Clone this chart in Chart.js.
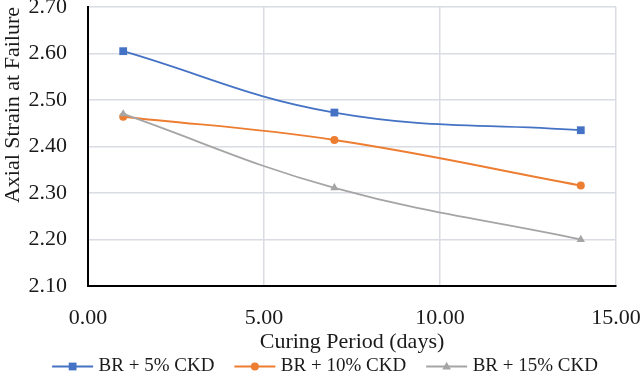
<!DOCTYPE html>
<html>
<head>
<meta charset="utf-8">
<script src="https://cdn.jsdelivr.net/npm/chart.js@4/dist/chart.umd.min.js"></script>
<style>
  html, body { margin: 0; padding: 0; background: #fff; }
  #wrap { width: 641px; height: 383px; position: relative; }
</style>
</head>
<body>
<div id="wrap"><canvas id="strain-chart"></canvas></div>
<script>
const CURING_DAYS = [1, 7, 14];
const CKD_5 = [2.605, 2.473, 2.435];
const CKD_10 = [2.464, 2.414, 2.316];
const CKD_15 = [2.470, 2.311, 2.200];
const SERIES_NAMES = ['BR + 5% CKD', 'BR + 10% CKD', 'BR + 15% CKD'];

const FONT = '"Liberation Serif", "Times New Roman", serif';
const TEXT_COLOR = '#1a1a1a';
const GRID_COLOR = '#d9dce3';
const SERIES_COLORS = ['#4472C4', '#ED7D31', '#A5A5A5'];
const SERIES_MARKERS = ['rect', 'circle', 'triangle'];
const MARKER_SIZES = [5.5, 4, 4.8];
const KEY_LEN = 41;

function toPoints(values) {
  return values.map((v, i) => ({ x: CURING_DAYS[i], y: v }));
}

function makeDataset(idx, values) {
  return {
    label: SERIES_NAMES[idx],
    data: toPoints(values),
    borderColor: SERIES_COLORS[idx],
    backgroundColor: SERIES_COLORS[idx],
    borderWidth: 1.8,
    pointStyle: SERIES_MARKERS[idx],
    pointRadius: MARKER_SIZES[idx],
    pointBorderWidth: 0,
    tension: 0.4,
    order: 2 - idx,
  };
}

function drawMarker(ctx, style, x, y, r, color) {
  ctx.fillStyle = color;
  ctx.beginPath();
  if (style === 'rect') {
    let s = r * Math.SQRT1_2;
    ctx.rect(x - s, y - s, 2 * s, 2 * s);
  } else if (style === 'circle') {
    ctx.arc(x, y, r, 0, Math.PI * 2);
  } else {
    ctx.moveTo(x, y - r);
    ctx.lineTo(x + r * 0.9, y + r * 0.6);
    ctx.lineTo(x - r * 0.9, y + r * 0.6);
    ctx.closePath();
  }
  ctx.fill();
}

// excel style legend keys: a short line with the marker in the middle
const legendKeys = {
  id: 'legendKeys',
  afterLayout(chart) {
    if (chart.legend) {
      chart.legend.left -= 4;
      chart.legend.right -= 4;
      chart.legend.top += 3;
      chart.legend.bottom += 3;
    }
  },
  afterDraw(chart) {
    const legend = chart.legend;
    if (!legend || !legend.legendHitBoxes) return;
    const ctx = chart.ctx;
    const boxWidth = legend.options.labels.boxWidth;
    legend.legendItems.forEach((item, i) => {
      const box = legend.legendHitBoxes[i];
      const idx = item.datasetIndex;
      const cy = box.top + box.height / 2;
      const x1 = box.left + boxWidth + 4;
      const x0 = x1 - KEY_LEN;
      ctx.save();
      ctx.strokeStyle = SERIES_COLORS[idx];
      ctx.lineWidth = 1.8;
      ctx.beginPath();
      ctx.moveTo(x0, cy);
      ctx.lineTo(x1, cy);
      ctx.stroke();
      drawMarker(ctx, SERIES_MARKERS[idx], (x0 + x1) / 2, cy, MARKER_SIZES[idx], SERIES_COLORS[idx]);
      ctx.restore();
    });
  }
};

const data = {
  datasets: [
    makeDataset(0, CKD_5),
    makeDataset(1, CKD_10),
    makeDataset(2, CKD_15),
  ],
};

const config = {
  type: 'line',
  data: data,
  options: {
    responsive: true,
    maintainAspectRatio: false,
    animation: false,
    layout: { padding: { left: 0, right: 0, top: 0, bottom: 0 } },
    scales: {
      x: {
        type: 'linear',
        min: 0,
        max: 15,
        border: { color: '#000', width: 2 },
        grid: { color: GRID_COLOR, lineWidth: 1.5, drawTicks: false },
        ticks: {
          stepSize: 5,
          padding: 19,
          color: TEXT_COLOR,
          font: { family: FONT, size: 22 },
          callback: (v) => v.toFixed(2),
        },
        title: {
          display: true,
          text: 'Curing Period (days)',
          color: TEXT_COLOR,
          font: { family: FONT, size: 22 },
          padding: { top: 0, bottom: -4 },
        },
        afterFit: (scale) => {
          scale.height = 65;
          scale.paddingLeft = 0;
          scale.paddingRight = 25;
        },
      },
      y: {
        min: 2.1,
        max: 2.7,
        border: { color: '#000', width: 2 },
        grid: { color: GRID_COLOR, lineWidth: 1.5, drawTicks: false },
        ticks: {
          stepSize: 0.1,
          padding: 21,
          color: TEXT_COLOR,
          font: { family: FONT, size: 22 },
          callback: (v) => v.toFixed(2),
        },
        title: {
          display: true,
          text: 'Axial Strain at Failure',
          align: 'end',
          color: TEXT_COLOR,
          font: { family: FONT, size: 22 },
          padding: { top: 0, bottom: 0 },
        },
        afterFit: (scale) => {
          scale.width = 88;
          scale.paddingTop = 7;
          scale.paddingBottom = 0;
        },
      },
    },
    plugins: {
      legend: {
        position: 'bottom',
        labels: {
          boxWidth: 54,
          boxHeight: 12,
          padding: 3,
          color: TEXT_COLOR,
          font: { family: FONT, size: 19 },
          generateLabels: (chart) => {
            const items = Chart.defaults.plugins.legend.labels.generateLabels(chart);
            items.forEach((it) => {
              it.fillStyle = 'rgba(0,0,0,0)';
              it.strokeStyle = 'rgba(0,0,0,0)';
              it.lineWidth = 0;
            });
            return items;
          },
          sort: (a, b) => a.datasetIndex - b.datasetIndex,
        },
      },
      tooltip: { enabled: false },
    },
  },
  plugins: [legendKeys],
};

let canvas = document.getElementById('strain-chart');
let strainChart = new Chart(canvas, config);
</script>
</body>
</html>
